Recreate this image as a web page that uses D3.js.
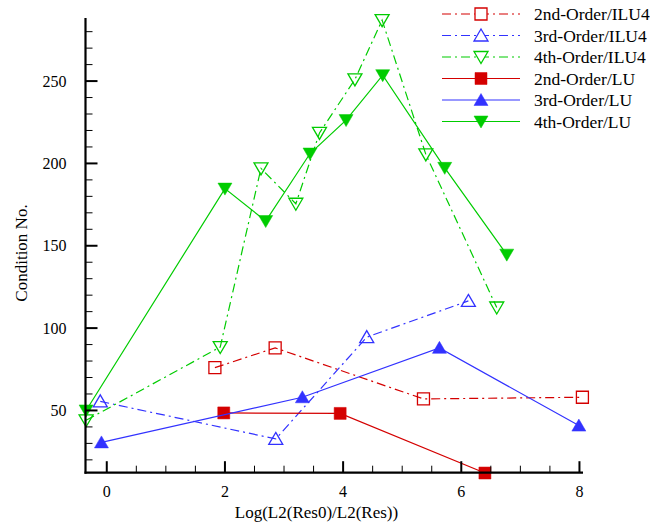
<!DOCTYPE html>
<head>
   <meta charset="utf-8">
   <script src="https://d3js.org/d3.v7.min.js"></script>
   <style>
      body { margin: 0; background: #fff; }
      text { font-family: "Liberation Serif", "Times New Roman", serif; font-size: 16px; fill: #000; }
      text.title { font-size: 17px; }
      text.legendText { font-size: 17.5px; }
   </style>
</head>
<body>
   <script>
      const width = 650;
      const height = 532;

      // series (x = Log(L2(Res0)/L2(Res)), y = condition no.)
      const ilu2X = [1.83, 2.85, 5.36, 8.05];
      const ilu2Y = [76, 88, 57, 58];
      const ilu3X = [-0.11, 2.86, 4.40, 6.12];
      const ilu3Y = [55.5, 32.7, 94.5, 116.5];
      const ilu4X = [-0.35, 1.92, 2.61, 3.20, 3.60, 4.20, 4.66, 5.40, 6.60];
      const ilu4Y = [44, 88.5, 197, 175.5, 218.5, 251, 287, 205.5, 112.5];
      const lu2X = [1.98, 3.95, 6.40];
      const lu2Y = [48.5, 48.2, 12];
      const lu3X = [-0.09, 3.31, 5.63, 7.99];
      const lu3Y = [30.6, 58, 88, 40.8];
      const lu4X = [-0.35, 2.0, 2.69, 3.44, 4.05, 4.67, 5.72, 6.77];
      const lu4Y = [50, 184.7, 165, 206, 226.3, 253.6, 197.3, 144.6];

      const xTicks = [0, 2, 4, 6, 8];
      const yTicks = [50, 100, 150, 200, 250];

      const red = '#d40000', blue = '#3232ff', green = '#00cc00';
      const dashDot = '9,4,2,4';

      const series = [
         { name: '2nd-Order/ILU4', xs: ilu2X, ys: ilu2Y, color: red, dash: dashDot, marker: 'square', filled: false },
         { name: '3rd-Order/ILU4', xs: ilu3X, ys: ilu3Y, color: blue, dash: dashDot, marker: 'up', filled: false },
         { name: '4th-Order/ILU4', xs: ilu4X, ys: ilu4Y, color: green, dash: dashDot, marker: 'down', filled: false },
         { name: '2nd-Order/LU', xs: lu2X, ys: lu2Y, color: red, dash: null, marker: 'square', filled: true },
         { name: '3rd-Order/LU', xs: lu3X, ys: lu3Y, color: blue, dash: null, marker: 'up', filled: true },
         { name: '4th-Order/LU', xs: lu4X, ys: lu4Y, color: green, dash: null, marker: 'down', filled: true }
      ];

      const svg = d3.select('body').append('svg')
         .attr('width', width)
         .attr('height', height);

      const x = d3.scaleLinear().domain([-0.36, 8.06]).range([85.5, 583]);
      const y = d3.scaleLinear().domain([12.2, 288.3]).range([472.7, 18]);

      // marker shapes, centred on their box
      function markerPath(type) {
         if (type === 'square') return 'M-6,-6H6V6H-6Z';
         if (type === 'up') return 'M0,-6.5L7,5.5H-7Z';
         return 'M-7,-5.5H7L0,6.5Z';
      }

      const plot = svg.append('g');

      series.forEach(s => {
         const pts = s.xs.map((v, i) => [v, s.ys[i]]);
         plot.append('path')
            .datum(pts)
            .attr('fill', 'none')
            .attr('stroke', s.color)
            .attr('stroke-width', 1.2)
            .attr('stroke-dasharray', s.dash)
            .attr('d', d3.line().x(d => x(d[0])).y(d => y(d[1])));

         plot.selectAll(null)
            .data(pts)
            .enter()
            .append('path')
            .attr('transform', d => `translate(${x(d[0])},${y(d[1])})`)
            .attr('d', markerPath(s.marker))
            .attr('fill', s.filled ? s.color : 'none')
            .attr('stroke', s.color)
            .attr('stroke-width', s.filled ? 0.5 : 1.3);
      });

      // axes
      const xMinor = d3.range(0.5, 8.01, 0.5).filter(v => v % 2 !== 0);
      const yMinor = d3.range(20, 288, 10).filter(v => v % 50 !== 0);

      const xAxis = svg.append('g').attr('transform', `translate(0,${y.range()[0]})`);
      xAxis.append('line')
         .attr('x1', x.range()[0] - 1).attr('x2', x.range()[1])
         .attr('stroke', '#000').attr('stroke-width', 2.2);
      xAxis.selectAll('line.minor').data(xMinor).enter().append('line')
         .attr('class', 'minor')
         .attr('x1', d => x(d)).attr('x2', d => x(d))
         .attr('y1', 0).attr('y2', -7)
         .attr('stroke', '#000').attr('stroke-width', 1);
      xAxis.selectAll('line.major').data(xTicks).enter().append('line')
         .attr('class', 'major')
         .attr('x1', d => x(d)).attr('x2', d => x(d))
         .attr('y1', 0).attr('y2', -11.5)
         .attr('stroke', '#000').attr('stroke-width', 2);
      xAxis.selectAll('text').data(xTicks).enter().append('text')
         .attr('x', d => x(d))
         .attr('y', 24)
         .style('text-anchor', 'middle')
         .text(d => d);

      const yAxis = svg.append('g').attr('transform', `translate(${x.range()[0]},0)`);
      yAxis.append('line')
         .attr('y1', y.range()[0] + 1).attr('y2', y.range()[1])
         .attr('stroke', '#000').attr('stroke-width', 2.2);
      yAxis.selectAll('line.minor').data(yMinor).enter().append('line')
         .attr('class', 'minor')
         .attr('y1', d => y(d)).attr('y2', d => y(d))
         .attr('x1', 0).attr('x2', 7)
         .attr('stroke', '#000').attr('stroke-width', 1);
      yAxis.selectAll('line.major').data(yTicks).enter().append('line')
         .attr('class', 'major')
         .attr('y1', d => y(d)).attr('y2', d => y(d))
         .attr('x1', 0).attr('x2', 12)
         .attr('stroke', '#000').attr('stroke-width', 2);
      yAxis.selectAll('text').data(yTicks).enter().append('text')
         .attr('x', -19)
         .attr('y', d => y(d))
         .attr('dy', '0.35em')
         .style('text-anchor', 'end')
         .text(d => d);

      svg.append('text')
         .attr('class', 'title')
         .attr('x', 316.5)
         .attr('y', 518)
         .style('text-anchor', 'middle')
         .text('Log(L2(Res0)/L2(Res))');

      svg.append('text')
         .attr('class', 'title')
         .attr('transform', 'translate(27,253) rotate(-90)')
         .style('text-anchor', 'middle')
         .text('Condition No.');

      // legend
      const legend = svg.append('g').attr('transform', 'translate(442,14)');
      series.forEach((s, i) => {
         const row = legend.append('g').attr('transform', `translate(0,${i * 21.5})`);
         row.append('line')
            .attr('x1', 0).attr('x2', 78)
            .attr('stroke', s.color)
            .attr('stroke-width', 1.2)
            .attr('stroke-dasharray', s.dash);
         row.append('path')
            .attr('transform', 'translate(39,0)')
            .attr('d', markerPath(s.marker))
            .attr('fill', s.filled ? s.color : '#fff')
            .attr('stroke', s.color)
            .attr('stroke-width', s.filled ? 0.5 : 1.3);
         row.append('text')
            .attr('class', 'legendText')
            .attr('x', 92)
            .attr('y', 0)
            .attr('dy', '0.35em')
            .text(s.name);
      });
   </script>
</body>
